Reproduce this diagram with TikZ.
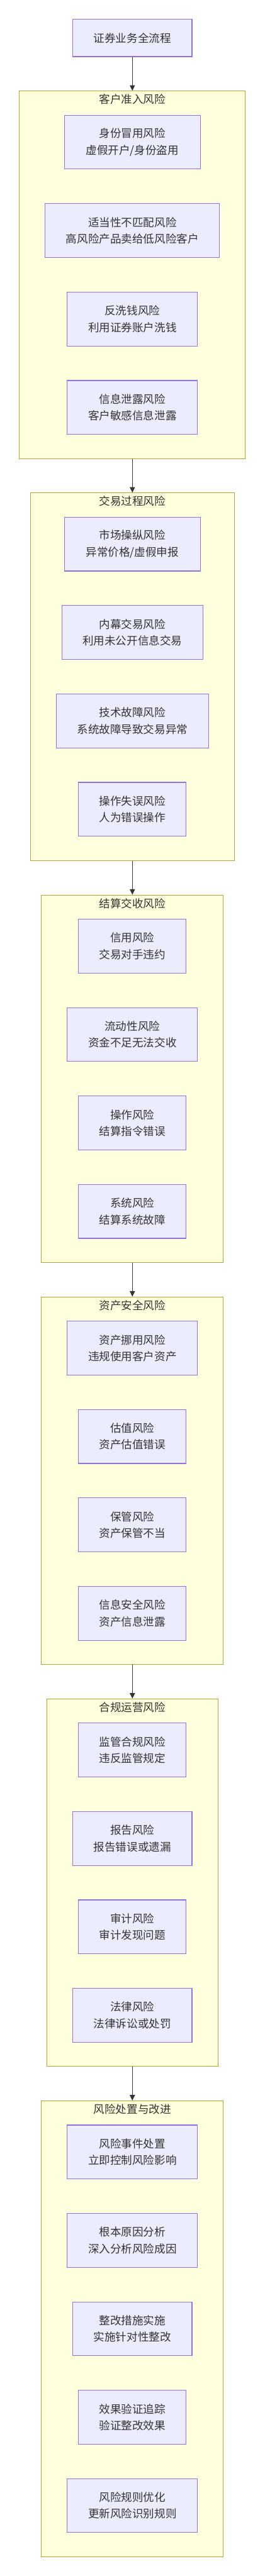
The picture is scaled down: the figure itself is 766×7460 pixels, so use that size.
\documentclass[tikz,border=0pt]{standalone}
\usepackage{fontspec}
\newfontfamily\cjk{Noto Sans CJK SC}
\usetikzlibrary{arrows.meta}
\definecolor{nodefill}{HTML}{ECECFF}
\definecolor{nodeborder}{HTML}{9370DB}
\definecolor{clfill}{HTML}{FFFFDE}
\definecolor{clborder}{HTML}{AAAA33}
\definecolor{textcol}{HTML}{333333}
\definecolor{linecol}{HTML}{333333}
\tikzset{
  rbox/.style={draw=nodeborder, fill=nodefill, line width=2pt, minimum height=156pt,
    inner sep=0pt, align=center, text=textcol, font=\cjk\fontsize{32pt}{48pt}\selectfont},
  clusterbox/.style={draw=clborder, fill=clfill, line width=2pt, inner sep=0pt},
  cltitle/.style={inner sep=0pt, text=textcol, font=\cjk\fontsize{32pt}{48pt}\selectfont},
  flow/.style={draw=linecol, line width=2pt, -{Triangle[length=16pt,width=15pt]}}
}
\begin{document}
\begin{tikzpicture}[x=1pt,y=-1pt]
\useasboundingbox (0,0) rectangle (766,7460);
% start node
\node[rbox, minimum width=345pt, minimum height=108pt] (start) at (383,110) {证券业务全流程};

% cluster 1
\node[clusterbox, minimum width=654pt, minimum height=1064pt] (c1) at (383,795.8) {};
\node[cltitle] (t1) at (383,288) {客户准入风险};
\node[rbox, minimum width=393pt] (a1) at (383,411.8) {身份冒用风险\\虚假开户/身份盗用};
\node[rbox, minimum width=505pt] (a2) at (383,667.8) {适当性不匹配风险\\高风险产品卖给低风险客户};
\node[rbox, minimum width=377pt] (a3) at (383,923.8) {反洗钱风险\\利用证券账户洗钱};
\node[rbox, minimum width=377pt] (a4) at (383,1179.8) {信息泄露风险\\客户敏感信息泄露};

% cluster 2
\node[clusterbox, minimum width=590.6pt, minimum height=1064pt] (c2) at (383,1959.7) {};
\node[cltitle] (t2) at (383,1451.5) {交易过程风险};
\node[rbox, minimum width=393pt] (b1) at (383,1575.7) {市场操纵风险\\异常价格/虚假申报};
\node[rbox, minimum width=408pt] (b2) at (383,1831.7) {内幕交易风险\\利用未公开信息交易};
\node[rbox, minimum width=441pt] (b3) at (383,2087.7) {技术故障风险\\系统故障导致交易异常};
\node[rbox, minimum width=312pt] (b4) at (383,2343.7) {操作失误风险\\人为错误操作};

% cluster 3
\node[clusterbox, minimum width=526pt, minimum height=1064pt] (c3) at (383,3124) {};
\node[cltitle] (t3) at (383,2616) {结算交收风险};
\node[rbox, minimum width=312pt] (s1) at (383,2740) {信用风险\\交易对手违约};
\node[rbox, minimum width=377pt] (s2) at (383,2996) {流动性风险\\资金不足无法交收};
\node[rbox, minimum width=312pt] (s3) at (383,3252) {操作风险\\结算指令错误};
\node[rbox, minimum width=312pt] (s4) at (383,3508) {系统风险\\结算系统故障};

% cluster 4
\node[clusterbox, minimum width=526pt, minimum height=1064pt] (c4) at (383,4288) {};
\node[cltitle] (t4) at (383,3780) {资产安全风险};
\node[rbox, minimum width=377pt] (d1) at (383,3904) {资产挪用风险\\违规使用客户资产};
\node[rbox, minimum width=312pt] (d2) at (383,4160) {估值风险\\资产估值错误};
\node[rbox, minimum width=312pt] (d3) at (383,4416) {保管风险\\资产保管不当};
\node[rbox, minimum width=312pt] (d4) at (383,4672) {信息安全风险\\资产信息泄露};

% cluster 5
\node[clusterbox, minimum width=495pt, minimum height=1064pt] (c5) at (383,5452) {};
\node[cltitle] (t5) at (383,4944) {合规运营风险};
\node[rbox, minimum width=312pt] (e1) at (383,5068) {监管合规风险\\违反监管规定};
\node[rbox, minimum width=345pt] (e2) at (383,5324) {报告风险\\报告错误或遗漏};
\node[rbox, minimum width=312pt] (e3) at (383,5580) {审计风险\\审计发现问题};
\node[rbox, minimum width=345pt] (e4) at (383,5836) {法律风险\\法律诉讼或处罚};

% cluster 6
\node[clusterbox, minimum width=526pt, minimum height=1320pt] (c6) at (383,6744) {};
\node[cltitle] (t6) at (383,6108) {风险处置与改进};
\node[rbox, minimum width=377pt] (f1) at (383,6232) {风险事件处置\\立即控制风险影响};
\node[rbox, minimum width=377pt] (f2) at (383,6488) {根本原因分析\\深入分析风险成因};
\node[rbox, minimum width=345pt] (f3) at (383,6744) {整改措施实施\\实施针对性整改};
\node[rbox, minimum width=312pt] (f4) at (383,7000) {效果验证追踪\\验证整改效果};
\node[rbox, minimum width=377pt] (f5) at (383,7256) {风险规则优化\\更新风险识别规则};

% connectors
\draw[flow] (start.south) -- (c1.north);
\draw[flow] (c1.south) -- (c2.north);
\draw[flow] (c2.south) -- (c3.north);
\draw[flow] (c3.south) -- (c4.north);
\draw[flow] (c4.south) -- (c5.north);
\draw[flow] (c5.south) -- (c6.north);
\end{tikzpicture}
\end{document}
